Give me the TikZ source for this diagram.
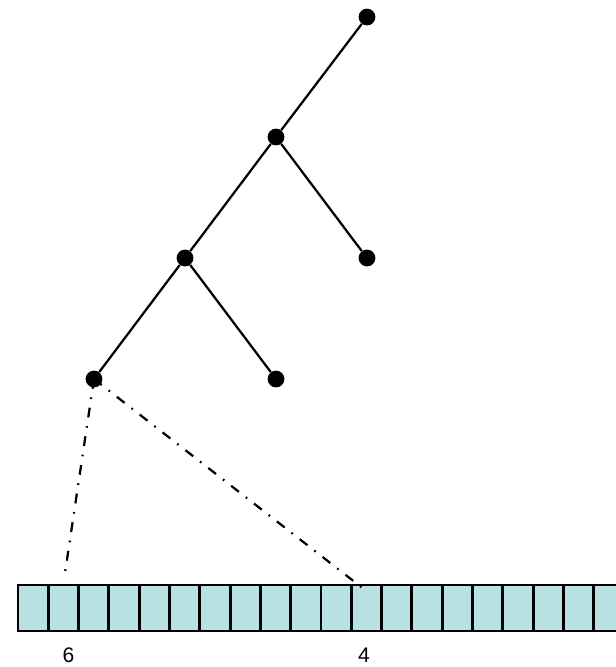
\documentclass[tikz,border=0pt]{standalone}
\usepackage{fontspec}
\setmainfont{Liberation Sans}
\definecolor{cellblue}{RGB}{185,224,227}

\begin{document}
\begin{tikzpicture}[x=0.025cm, y=-0.025cm,
    vertex/.style={circle, fill=black, inner sep=0pt, minimum size=0.42cm},
    branch/.style={line width=1.6pt},
    cell/.style={draw, line width=2pt, fill=cellblue, inner sep=0pt,
        minimum width=0.7575cm, minimum height=1.15cm},
    pointer/.style={line width=1.6pt, dash pattern=on 7pt off 6.2pt on 1.2pt off 6.2pt},
    index/.style={font=\fontsize{15}{18}\selectfont, inner sep=0pt}
]
\useasboundingbox (0,0) rectangle (616,667);
\clip (0,0) rectangle (616,667);
% tree
\node[vertex] (root) at (367,17) {};
\node[vertex] (mid) at (276,137) {};
\node[vertex] (midr) at (367,258) {};
\node[vertex] (low) at (185,258) {};
\node[vertex] (lowr) at (276,379) {};
\node[vertex] (leaf) at (94,379) {};
\draw[branch] (root) -- (mid);
\draw[branch] (mid) -- (midr);
\draw[branch] (mid) -- (low);
\draw[branch] (low) -- (lowr);
\draw[branch] (low) -- (leaf);
% array
\foreach \i in {0,...,19}
    \node[cell] (c\i) at ({33.15+30.3*\i},608) {};
\node[index] (six) at (68.5,655) {6};
\node[index] (four) at (364,655) {4};
% pointers into the array
\coordinate (lend) at (65,573);
\coordinate (rend) at (365,590);
\draw[pointer] (leaf.center) -- (lend);
\draw[pointer] (leaf.center) -- (rend);
\end{tikzpicture}
\end{document}
